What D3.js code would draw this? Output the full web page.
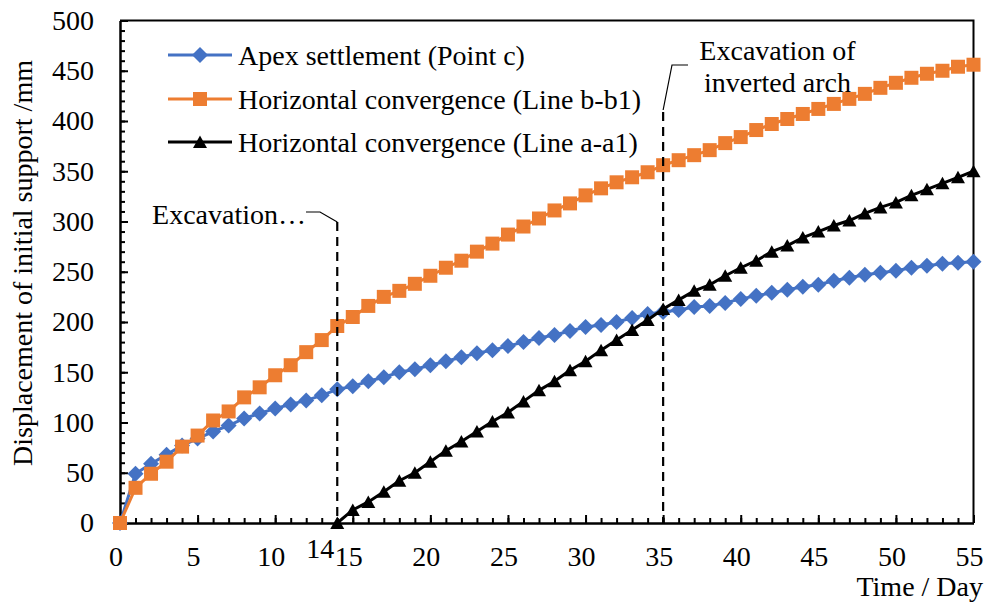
<!DOCTYPE html>
<html>
<head>
<meta charset="utf-8">
<script src="https://cdn.jsdelivr.net/npm/d3@7/dist/d3.min.js"></script>
<style>
  body { margin: 0; background: #fff; }
</style>
</head>
<body>
<svg id="chart" width="986" height="603" style="font-family: 'Liberation Serif', Tinos, 'Times New Roman', 'DejaVu Serif', serif;"></svg>
<script>
"use strict";

// ---- data ----
const days = d3.range(0, 56);
const apexSettlement = [0, 49, 59, 68, 77, 84, 91, 97, 104, 109, 114, 118, 122, 127, 133,
    136, 141, 145, 150, 153, 157, 161, 165, 169, 172, 176, 180, 184, 187, 191, 195,
    197, 200, 204, 208, 210, 212, 215, 216, 219, 223, 226, 229, 232, 235, 237, 241,
    244, 247, 249, 251, 254, 256, 258, 259, 260];
const convergenceB = [0, 35, 49, 61, 76, 87, 102, 111, 125, 135, 147, 157, 170, 182, 196,
    205, 216, 225, 231, 238, 246, 254, 261, 270, 278, 287, 295, 303, 311, 318, 326,
    333, 339, 344, 349, 356, 361, 366, 371, 378, 384, 391, 397, 402, 407, 412, 417,
    422, 427, 433, 438, 443, 447, 450, 454, 456];
const daysA = d3.range(14, 56);
const convergenceA = [0, 13, 21, 31, 42, 50, 61, 72, 81, 91, 101, 110, 121, 132, 141,
    152, 161, 172, 182, 192, 202, 213, 222, 231, 237, 246, 254, 261, 270, 276, 284,
    290, 296, 301, 308, 314, 319, 326, 332, 338, 344, 350];
const seriesNames = ["Apex settlement (Point c)",
    "Horizontal convergence (Line b-b1)",
    "Horizontal convergence (Line a-a1)"];
const xTicks = d3.range(0, 56, 5);
const yTicks = d3.range(0, 501, 50);
const eventDays = [14, 35];
const eventLabels = [["Excavation\u2026"], ["Excavation of", "inverted arch"]];

const series = [
    {name: seriesNames[0], color: "#4472C4", marker: "diamond",
     points: days.map((d, i) => [d, apexSettlement[i]])},
    {name: seriesNames[1], color: "#ED7D31", marker: "square",
     points: days.map((d, i) => [d, convergenceB[i]])},
    {name: seriesNames[2], color: "#000000", marker: "triangle",
     points: daysA.map((d, i) => [d, convergenceA[i]])}
];

// ---- layout ----
const svg = d3.select("#chart");
const x = d3.scaleLinear().domain([0, 55]).range([120, 973.5]);
const y = d3.scaleLinear().domain([0, 500]).range([523, 20.5]);
const FONT = 28;

const markerPath = {
    diamond: "M0,-8L8,0L0,8L-8,0Z",
    square: "M-7,-7H7V7H-7Z",
    triangle: "M0,-6.5L7,6L-7,6Z"
};

// frame (top and right)
svg.append("path")
    .attr("d", `M${x(0)},${y(500)}H${x(55)}V${y(0)}`)
    .attr("fill", "none").attr("stroke", "#000").attr("stroke-width", 2);

// minor ticks
svg.append("g").attr("transform", `translate(0,${y(0)})`)
    .call(d3.axisBottom(x).tickValues(days).tickSize(-5).tickFormat(""))
    .call(g => g.select(".domain").remove())
    .selectAll("line").attr("stroke-width", 2);
svg.append("g").attr("transform", `translate(${x(0)},0)`)
    .call(d3.axisLeft(y).tickValues(d3.range(0, 501, 10)).tickSize(-5).tickFormat(""))
    .call(g => g.select(".domain").remove())
    .selectAll("line").attr("stroke-width", 2);

// major axes
const xAxis = svg.append("g").attr("transform", `translate(0,${y(0)})`)
    .call(d3.axisBottom(x).tickValues(xTicks).tickSizeInner(-8).tickSizeOuter(0).tickPadding(23.5));
const yAxis = svg.append("g").attr("transform", `translate(${x(0)},0)`)
    .call(d3.axisLeft(y).tickValues(yTicks).tickSizeInner(-8).tickSizeOuter(0).tickPadding(26));
[xAxis, yAxis].forEach(g => {
    g.attr("font-family", null).attr("font-size", null);
    g.select(".domain").attr("stroke-width", 2.5);
    g.selectAll(".tick line").attr("stroke-width", 2);
    g.selectAll(".tick text").style("font-size", FONT + "px");
});
xAxis.selectAll(".tick text").attr("x", -4.5);

// separate "14" label
svg.append("text")
    .attr("x", x(14) - 3).attr("y", 558)
    .attr("text-anchor", "end")
    .style("font-size", FONT + "px")
    .text("14");

// axis titles
svg.append("text")
    .attr("transform", `translate(32,263) rotate(-90)`)
    .attr("text-anchor", "middle")
    .style("font-size", FONT + "px")
    .text("Displacement of initial support /mm");
svg.append("text")
    .attr("x", 983).attr("y", 596)
    .attr("text-anchor", "end")
    .style("font-size", FONT + "px")
    .text("Time / Day");

// series
const line = d3.line().x(d => x(d[0])).y(d => y(d[1]));
series.forEach(s => {
    const g = svg.append("g");
    g.append("path").datum(s.points)
        .attr("d", line)
        .attr("fill", "none")
        .attr("stroke", s.color)
        .attr("stroke-width", 3);
    g.selectAll("path.m").data(s.points).join("path")
        .attr("class", "m")
        .attr("d", markerPath[s.marker])
        .attr("transform", d => `translate(${x(d[0])},${y(d[1])})`)
        .attr("fill", s.color);
});

// event markers: dashed verticals with leader lines and labels
const dash = {stroke: "#000", "stroke-width": 2.2, "stroke-dasharray": "9,6"};
const events = [
    {day: eventDays[0], label: eventLabels[0], top: 222,
     leader: [[x(eventDays[0]), 222], [320, 212], [306, 212]],
     textX: 306, textY: 224, anchor: "end"},
    {day: eventDays[1], label: eventLabels[1], top: 112,
     leader: [[x(eventDays[1]), 110], [672, 65], [688, 65]],
     textX: 777.5, textY: 60, anchor: "middle"}
];
events.forEach(ev => {
    const v = svg.append("line")
        .attr("x1", x(ev.day)).attr("x2", x(ev.day))
        .attr("y1", ev.top).attr("y2", y(0));
    Object.entries(dash).forEach(([k, val]) => v.attr(k, val));
    svg.append("path")
        .attr("d", d3.line()(ev.leader))
        .attr("fill", "none").attr("stroke", "#000").attr("stroke-width", 1.2);
    svg.append("text")
        .attr("x", ev.textX).attr("y", ev.textY)
        .attr("text-anchor", ev.anchor)
        .style("font-size", FONT + "px")
        .selectAll("tspan").data(ev.label).join("tspan")
        .attr("x", ev.textX).attr("dy", (d, i) => i === 0 ? 0 : 32)
        .text(d => d);
});

// legend
const legendRows = [55, 99, 142];
series.forEach((s, i) => {
    const g = svg.append("g").attr("transform", `translate(0,${legendRows[i]})`);
    g.append("line").attr("x1", 168).attr("x2", 232)
        .attr("stroke", s.color).attr("stroke-width", 3);
    g.append("path").attr("d", markerPath[s.marker])
        .attr("transform", "translate(200,0)").attr("fill", s.color);
    g.append("text").attr("x", 238).attr("y", 10)
        .style("font-size", FONT + "px").text(s.name);
});
</script>
</body>
</html>
